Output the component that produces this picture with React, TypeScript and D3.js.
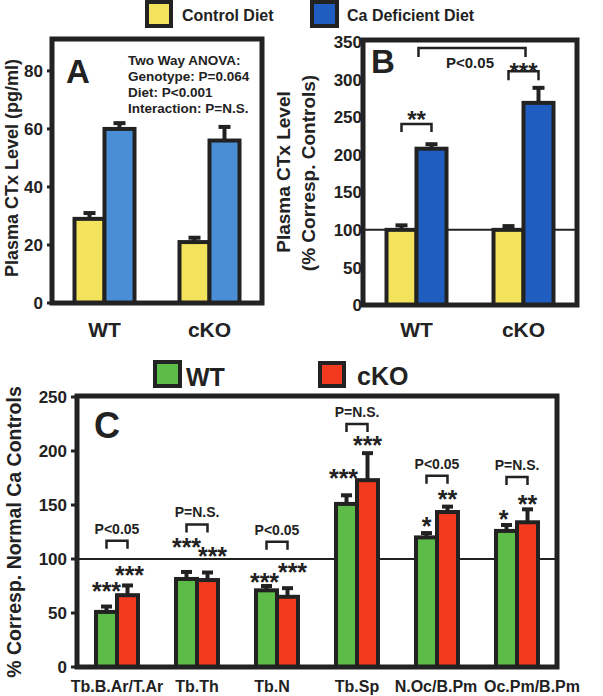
import React from 'react';
import * as d3 from 'd3';

// ---- data ----
const genotypes = ['WT', 'cKO'];
const dietLabels = ['Control Diet', 'Ca Deficient Diet'];

// panel A: plasma CTx (pg/ml)
const aControl = [29, 21];
const aControlErr = [2, 1.5];
const aCaDef = [60, 56];
const aCaDefErr = [2, 4.7];
const aTicks = [0, 20, 40, 60, 80];
const anovaLines = ['Two Way ANOVA:', 'Genotype: P=0.064', 'Diet: P<0.001', 'Interaction: P=N.S.'];

// panel B: % of corresponding controls
const bControl = [100, 100];
const bControlErr = [6, 5];
const bCaDef = [208, 269];
const bCaDefErr = [6, 20];
const bTicks = [0, 50, 100, 150, 200, 250, 300, 350];

// panel C: histomorphometry, % of normal Ca controls
const cCategories = ['Tb.B.Ar/T.Ar', 'Tb.Th', 'Tb.N', 'Tb.Sp', 'N.Oc/B.Pm', 'Oc.Pm/B.Pm'];
const cWT = [51, 81.5, 71, 151, 120, 126];
const cWTErr = [5, 6.5, 4, 8, 4, 5.5];
const cKO = [66.5, 80.5, 65, 173, 143.5, 134];
const cKOErr = [9, 7, 8, 25, 5, 12];
const cTicks = [0, 50, 100, 150, 200, 250];
const cWTStars = ['***', '***', '***', '***', '*', '*'];
const cKOStars = ['***', '***', '***', '***', '**', '**'];
const cWTStarY = [62, 103, 70, 167, 122, 129];
const cKOStarY = [77, 94, 80, 197, 147, 143];
const cPLabels = ['P<0.05', 'P=N.S.', 'P<0.05', 'P=N.S.', 'P<0.05', 'P=N.S.'];
const cBracketY = [117, 132, 116, 225, 177, 176];

const FONT = "'Liberation Sans', Arial, Helvetica, sans-serif";
const INK = '#222';
const YELLOW = '#f3e35c';
const LIGHTBLUE = '#4a8fd6';
const DARKBLUE = '#1f5ec0';
const GREEN = '#5dbb48';
const RED = '#f23a1f';

function Bar({ x, w, y0, y1, fill }: any) {
  return <rect x={x} y={y1} width={w} height={y0 - y1} fill={fill} stroke={INK} strokeWidth={4} />;
}

function ErrBar({ cx, y1, y2, cap }: any) {
  return (
    <g stroke={INK}>
      <line x1={cx} x2={cx} y1={y1} y2={y2} strokeWidth={4} />
      <line x1={cx - cap / 2} x2={cx + cap / 2} y1={y2} y2={y2} strokeWidth={4} />
    </g>
  );
}

function Bracket({ x1, x2, y, leg }: any) {
  return (
    <path
      d={`M${x1},${y + leg}V${y}H${x2}V${y + leg}`}
      fill="none"
      stroke={INK}
      strokeWidth={2.5}
    />
  );
}

function YAxis({ scale, ticks, x, size, labelGap, tick }: any) {
  return (
    <g>
      {ticks.map((t: number) => (
        <g key={t}>
          <line x1={x - tick} x2={x} y1={scale(t)} y2={scale(t)} stroke={INK} strokeWidth={3} />
          <text
            x={x - tick - labelGap}
            y={scale(t)}
            dy="0.36em"
            textAnchor="end"
            fontSize={size}
            fontWeight="bold"
            fill={INK}
          >
            {t}
          </text>
        </g>
      ))}
    </g>
  );
}

export default function App() {
  // panel A
  const aX = d3.scaleBand().domain(genotypes).range([52, 262]);
  const aY = d3.scaleLinear().domain([0, 91]).range([303, 39]);
  // panel B
  const bX = d3.scaleBand().domain(genotypes).range([363, 577]);
  const bY = d3.scaleLinear().domain([0, 350]).range([305, 42]);
  // panel C
  const cX = d3.scaleBand().domain(cCategories).range([77, 557]);
  const cY = d3.scaleLinear().domain([0, 250]).range([667, 397]);

  const abW = 30;
  const cW = 21;
  const labelShift = [0, 0, -5, 0, -1, 15];

  return (
    <svg width={603} height={696} style={{ display: 'block', position: 'absolute', left: 0, top: 0 }} fontFamily={FONT}>
      <rect width={603} height={696} fill="#fff" />

      {/* top legend */}
      <rect x={147} y={2} width={24} height={24} fill={YELLOW} stroke={INK} strokeWidth={4} />
      <text x={182} y={21} fontSize={16} fontWeight="bold" fill={INK}>{dietLabels[0]}</text>
      <rect x={312} y={2} width={25} height={24} fill={DARKBLUE} stroke={INK} strokeWidth={4} />
      <text x={347} y={21} fontSize={16} fontWeight="bold" fill={INK}>{dietLabels[1]}</text>

      {/* ---------- panel A ---------- */}
      <text transform="translate(18,168) rotate(-90)" textAnchor="middle" fontSize={18} fontWeight="bold" fill={INK}>
        Plasma CTx Level (pg/ml)
      </text>
      <YAxis scale={aY} ticks={aTicks} x={50} size={17} labelGap={4} tick={3} />
      {genotypes.map((g, i) => {
        const c = (aX(g) as number) + aX.bandwidth() / 2;
        return (
          <g key={g}>
            <ErrBar cx={c - abW / 2} y1={aY(aControl[i])} y2={aY(aControl[i] + aControlErr[i])} cap={12} />
            <ErrBar cx={c + abW / 2} y1={aY(aCaDef[i])} y2={aY(aCaDef[i] + aCaDefErr[i])} cap={12} />
            <Bar x={c - abW} w={abW} y0={aY(0)} y1={aY(aControl[i])} fill={YELLOW} />
            <Bar x={c} w={abW} y0={aY(0)} y1={aY(aCaDef[i])} fill={LIGHTBLUE} />
            <text x={c} y={337} textAnchor="middle" fontSize={21} fontWeight="bold" fill={INK}>{g}</text>
          </g>
        );
      })}
      <rect x={52} y={39} width={210} height={264} fill="none" stroke={INK} strokeWidth={5} />
      <text x={66} y={83} fontSize={33} fontWeight="bold" fill={INK}>A</text>
      {anovaLines.map((l, i) => (
        <text key={l} x={128} y={65 + i * 16} fontSize={13.5} fontWeight="bold" fill={INK}>{l}</text>
      ))}

      {/* ---------- panel B ---------- */}
      <text transform="translate(290,172) rotate(-90)" textAnchor="middle" fontSize={19} fontWeight="bold" fill={INK}>
        Plasma CTx Level
      </text>
      <text transform="translate(315,173) rotate(-90)" textAnchor="middle" fontSize={19} fontWeight="bold" fill={INK}>
        (% Corresp. Controls)
      </text>
      <YAxis scale={bY} ticks={bTicks} x={363} size={17} labelGap={1} tick={0} />
      <line x1={363} x2={577} y1={bY(100)} y2={bY(100)} stroke={INK} strokeWidth={2} />
      {genotypes.map((g, i) => {
        const c = (bX(g) as number) + bX.bandwidth() / 2;
        return (
          <g key={g}>
            <ErrBar cx={c - abW / 2} y1={bY(bControl[i])} y2={bY(bControl[i] + bControlErr[i])} cap={12} />
            <ErrBar cx={c + abW / 2} y1={bY(bCaDef[i])} y2={bY(bCaDef[i] + bCaDefErr[i])} cap={12} />
            <Bar x={c - abW} w={abW} y0={bY(0)} y1={bY(bControl[i])} fill={YELLOW} />
            <Bar x={c} w={abW} y0={bY(0)} y1={bY(bCaDef[i])} fill={DARKBLUE} />
            <text x={c} y={337} textAnchor="middle" fontSize={21} fontWeight="bold" fill={INK}>{g}</text>
          </g>
        );
      })}
      {(() => {
        const cWt = (bX('WT') as number) + bX.bandwidth() / 2;
        const cKo = (bX('cKO') as number) + bX.bandwidth() / 2;
        return (
          <g fill={INK} fontWeight="bold">
            <Bracket x1={cWt - abW / 2} x2={cWt + abW / 2} y={bY(241)} leg={8} />
            <text x={cWt} y={bY(241) + 4} textAnchor="middle" fontSize={24}>**</text>
            <Bracket x1={cKo - abW / 2} x2={cKo + abW / 2} y={bY(311)} leg={9} />
            <text x={cKo} y={bY(311) + 9} textAnchor="middle" fontSize={24}>***</text>
            <Bracket x1={cWt + 2} x2={cKo + 2} y={bY(342)} leg={9} />
            <text x={470} y={68} textAnchor="middle" fontSize={15}>P&lt;0.05</text>
          </g>
        );
      })()}
      <rect x={363} y={40} width={214} height={265} fill="none" stroke={INK} strokeWidth={5} />
      <text x={371} y={73} fontSize={33} fontWeight="bold" fill={INK}>B</text>

      {/* ---------- panel C ---------- */}
      <rect x={155} y={362} width={25} height={24} fill={GREEN} stroke={INK} strokeWidth={4} />
      <text x={186} y={386} fontSize={25} fontWeight="bold" fill={INK}>WT</text>
      <rect x={320} y={363} width={24} height={23} fill={RED} stroke={INK} strokeWidth={4} />
      <text x={357} y={385} fontSize={25} fontWeight="bold" fill={INK}>cKO</text>

      <text transform="translate(21,532) rotate(-90)" textAnchor="middle" fontSize={19.5} fontWeight="bold" fill={INK}>
        % Corresp. Normal Ca Controls
      </text>
      <YAxis scale={cY} ticks={cTicks} x={77} size={17} labelGap={4} tick={6} />
      <line x1={77} x2={557} y1={cY(100)} y2={cY(100)} stroke={INK} strokeWidth={2} />
      {cCategories.map((k, i) => {
        const c = (cX(k) as number) + cX.bandwidth() / 2;
        const dxW = [0, 0, -2, -3, 0, -3][i];
        const dxK = [2, 5, 5, 0, 0, 0][i];
        return (
          <g key={k}>
            <ErrBar cx={c - cW / 2} y1={cY(cWT[i])} y2={cY(cWT[i] + cWTErr[i])} cap={11} />
            <ErrBar cx={c + cW / 2} y1={cY(cKO[i])} y2={cY(cKO[i] + cKOErr[i])} cap={11} />
            <Bar x={c - cW} w={cW} y0={cY(0)} y1={cY(cWT[i])} fill={GREEN} />
            <Bar x={c} w={cW} y0={cY(0)} y1={cY(cKO[i])} fill={RED} />
            <g fill={INK} fontWeight="bold" textAnchor="middle">
              <text x={c - cW / 2 + dxW} y={cY(cWTStarY[i])} fontSize={25}>{cWTStars[i]}</text>
              <text x={c + cW / 2 + dxK} y={cY(cKOStarY[i])} fontSize={25}>{cKOStars[i]}</text>
              <Bracket x1={c - cW / 2} x2={c + cW / 2} y={cY(cBracketY[i])} leg={8} />
              <text x={c} y={cY(cBracketY[i]) - 7} fontSize={14}>{cPLabels[i]}</text>
            </g>
            <text x={c + labelShift[i]} y={692} textAnchor="middle" fontSize={16} fontWeight="bold" fill={INK}>{k}</text>
          </g>
        );
      })}
      <rect x={77} y={396} width={480} height={271} fill="none" stroke={INK} strokeWidth={5} />
      <text x={94} y={438} fontSize={36} fontWeight="bold" fill={INK}>C</text>
    </svg>
  );
}
